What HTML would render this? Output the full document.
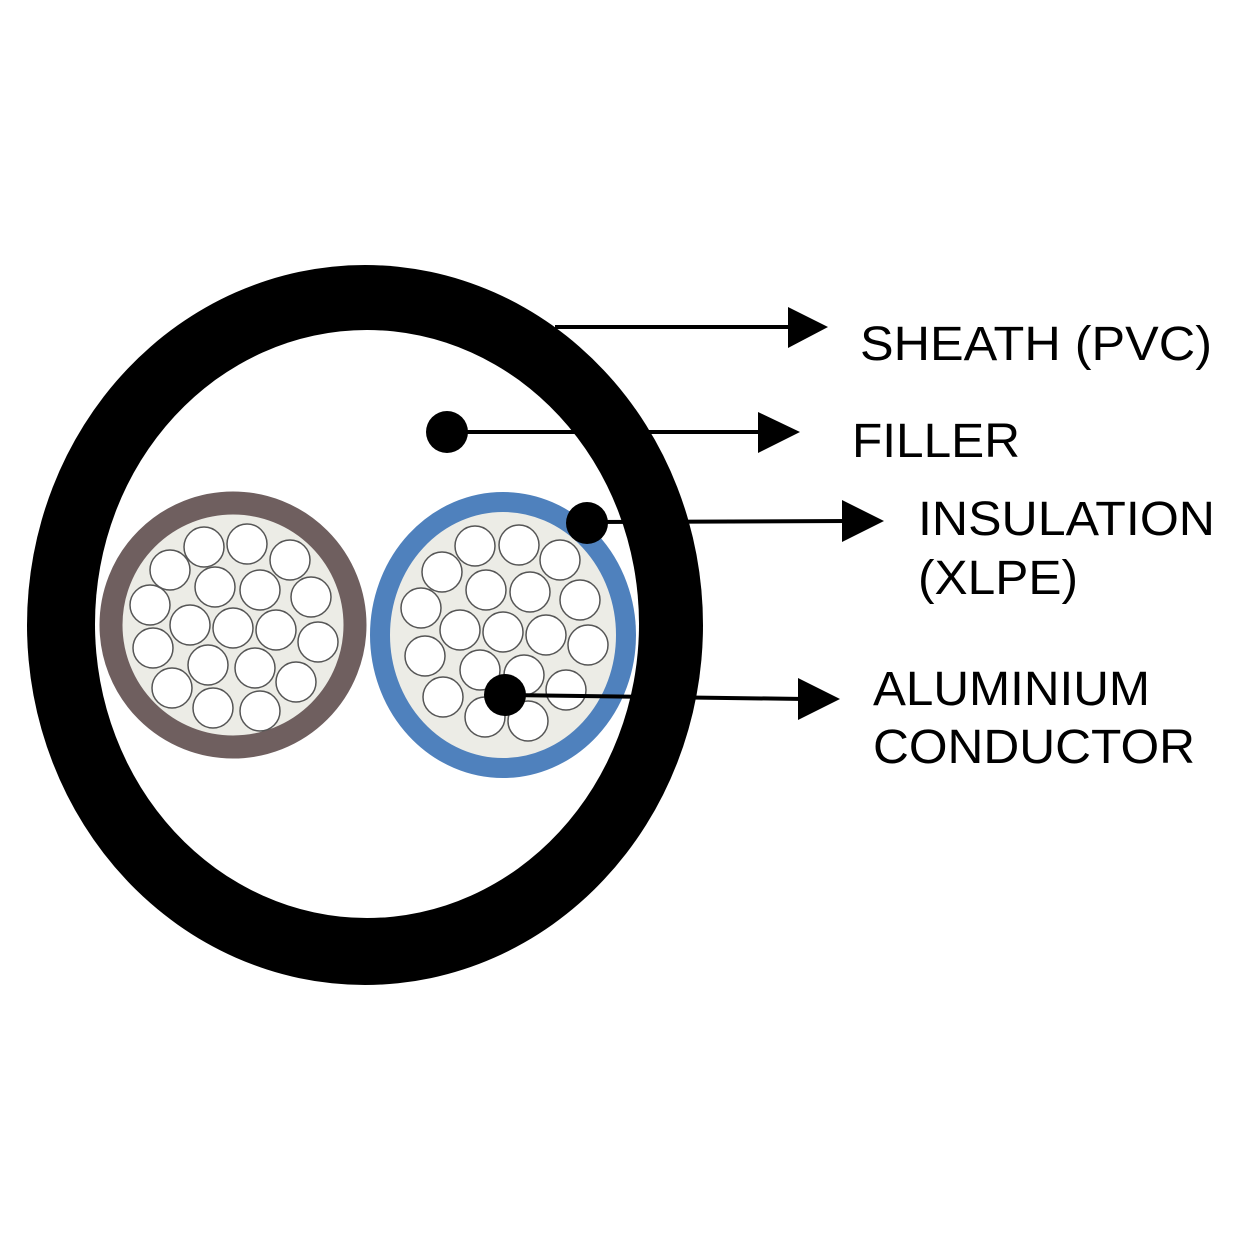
<!DOCTYPE html>
<html><head><meta charset="utf-8"><style>html,body{margin:0;padding:0;background:#fff}svg{display:block}</style></head>
<body>
<svg width="1250" height="1250" viewBox="0 0 1250 1250" xmlns="http://www.w3.org/2000/svg">
<rect width="1250" height="1250" fill="#fff"/>
<ellipse cx="365" cy="625" rx="338" ry="360" fill="#000"/>
<ellipse cx="367" cy="624" rx="272" ry="294" fill="#fff"/>
<circle cx="233" cy="625" r="122" fill="#ecece6" stroke="#6f5f5f" stroke-width="23"/>
<ellipse cx="503" cy="635" rx="123" ry="133" fill="#ecece6" stroke="#4f81bd" stroke-width="20"/>
<g fill="#fff" stroke="#555" stroke-width="1.5">
<circle cx="204" cy="547" r="20"/><circle cx="247" cy="544" r="20"/><circle cx="290" cy="560" r="20"/><circle cx="170" cy="570" r="20"/><circle cx="215" cy="587" r="20"/><circle cx="260" cy="590" r="20"/><circle cx="311" cy="597" r="20"/><circle cx="150" cy="605" r="20"/><circle cx="190" cy="625" r="20"/><circle cx="233" cy="628" r="20"/><circle cx="276" cy="630" r="20"/><circle cx="318" cy="642" r="20"/><circle cx="153" cy="648" r="20"/><circle cx="208" cy="665" r="20"/><circle cx="255" cy="668" r="20"/><circle cx="296" cy="682" r="20"/><circle cx="172" cy="688" r="20"/><circle cx="213" cy="708" r="20"/><circle cx="260" cy="711" r="20"/>
<circle cx="475" cy="546" r="20"/><circle cx="519" cy="545" r="20"/><circle cx="560" cy="560" r="20"/><circle cx="442" cy="572" r="20"/><circle cx="486" cy="590" r="20"/><circle cx="530" cy="592" r="20"/><circle cx="580" cy="600" r="20"/><circle cx="421" cy="608" r="20"/><circle cx="460" cy="630" r="20"/><circle cx="503" cy="632" r="20"/><circle cx="546" cy="635" r="20"/><circle cx="588" cy="645" r="20"/><circle cx="425" cy="656" r="20"/><circle cx="480" cy="670" r="20"/><circle cx="524" cy="675" r="20"/><circle cx="566" cy="690" r="20"/><circle cx="443" cy="697" r="20"/><circle cx="485" cy="717" r="20"/><circle cx="528" cy="721" r="20"/>
</g>
<g stroke="#000" stroke-width="4" fill="#000">
<line x1="555" y1="327" x2="795" y2="327"/><polygon points="788,307 828,327 788,348" stroke="none"/>
<circle cx="447" cy="432" r="21" stroke="none"/><line x1="447" y1="432" x2="765" y2="432"/><polygon points="758,412 800,432 758,453" stroke="none"/>
<circle cx="587" cy="523" r="21" stroke="none"/><line x1="587" y1="522" x2="850" y2="521"/><polygon points="842,500 884,521 842,542" stroke="none"/>
<circle cx="505" cy="695" r="21" stroke="none"/><line x1="505" y1="695" x2="805" y2="699"/><polygon points="798,678 840,699 798,720" stroke="none"/>
</g>
<g font-family="Liberation Sans, sans-serif" font-size="48" fill="#000">
<text x="860" y="360" textLength="352" lengthAdjust="spacingAndGlyphs">SHEATH (PVC)</text>
<text x="852" y="457" textLength="168" lengthAdjust="spacingAndGlyphs">FILLER</text>
<text x="918" y="535" textLength="297" lengthAdjust="spacingAndGlyphs">INSULATION</text>
<text x="918" y="594" textLength="160" lengthAdjust="spacingAndGlyphs">(XLPE)</text>
<text x="873" y="705" textLength="277" lengthAdjust="spacingAndGlyphs">ALUMINIUM</text>
<text x="873" y="763" textLength="322" lengthAdjust="spacingAndGlyphs">CONDUCTOR</text>
</g>
</svg>
</body></html>
